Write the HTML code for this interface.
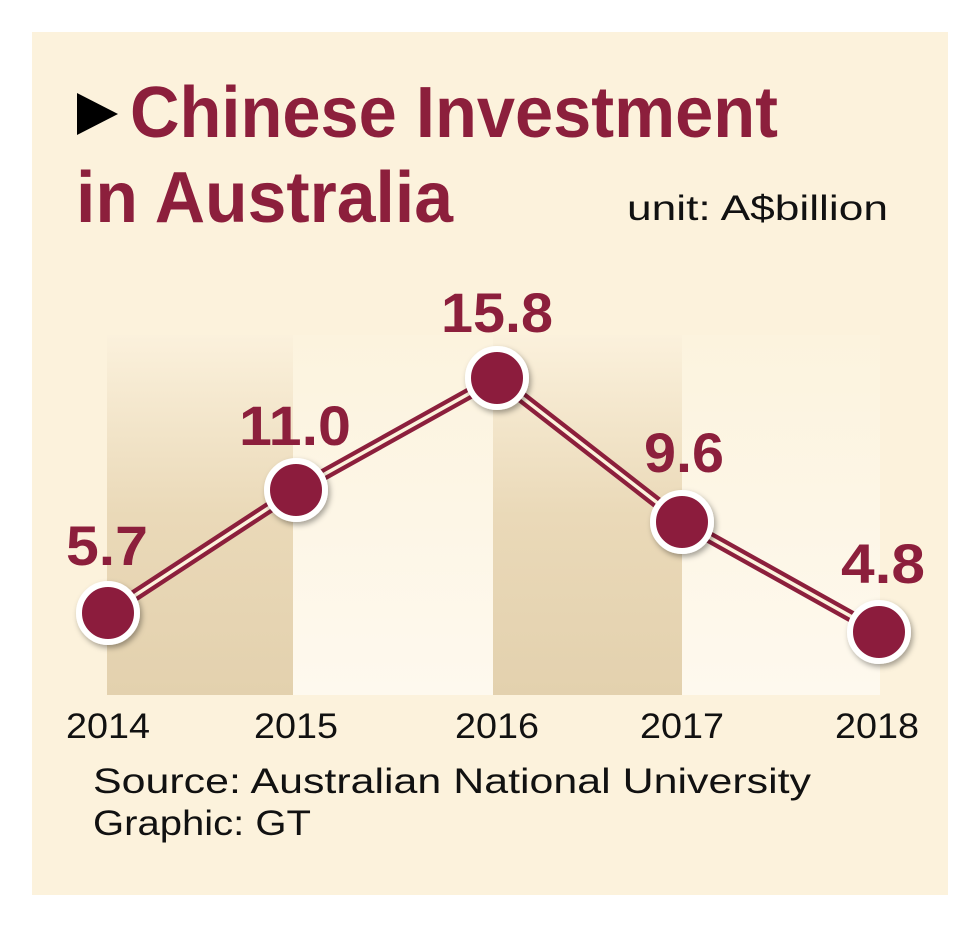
<!DOCTYPE html>
<html><head><meta charset="utf-8"><style>
html,body{margin:0;padding:0;background:#fff;}
svg{display:block}
</style></head><body>
<svg width="972" height="932" viewBox="0 0 972 932" xmlns="http://www.w3.org/2000/svg">
<defs>
<linearGradient id="dk" x1="0" y1="0" x2="0" y2="1">
<stop offset="0" stop-color="#fbf1dc"/><stop offset="0.5" stop-color="#ead9b8"/><stop offset="1" stop-color="#e3d1ae"/></linearGradient>
<linearGradient id="lt" x1="0" y1="0" x2="0" y2="1">
<stop offset="0" stop-color="#fcf3de"/><stop offset="1" stop-color="#fef9ee"/></linearGradient>
<filter id="sh" x="-50%" y="-50%" width="200%" height="200%"><feDropShadow dx="2" dy="3" stdDeviation="3" flood-color="#000" flood-opacity="0.35"/></filter>
</defs>
<rect x="32" y="32" width="916" height="863" fill="#fcf2dc"/>
<rect x="107" y="335" width="186" height="360" fill="url(#dk)"/>
<rect x="293" y="335" width="200" height="360" fill="url(#lt)"/>
<rect x="493" y="335" width="189" height="360" fill="url(#dk)"/>
<rect x="682" y="335" width="198" height="360" fill="url(#lt)"/>
<polygon points="77,93 118,114 77,135" fill="#000"/>
<g font-family="Liberation Sans, sans-serif" font-weight="bold" fill="#8c1f3c">
<text x="130" y="137" font-size="72" textLength="648" lengthAdjust="spacingAndGlyphs">Chinese Investment</text>
<text x="76" y="222" font-size="72" textLength="377" lengthAdjust="spacingAndGlyphs">in Australia</text>
</g>
<text x="627" y="220" font-family="Liberation Sans, sans-serif" font-size="35" fill="#111" textLength="261" lengthAdjust="spacingAndGlyphs">unit: A$billion</text>
<polyline points="108,613 296,490 497,378 682,522 879,632" fill="none" stroke="#8c1f3c" stroke-width="12"/>
<polyline points="108,613 296,490 497,378 682,522 879,632" fill="none" stroke="#fcf2dc" stroke-width="3.5"/>
<g fill="#8c1f3c" stroke="#fff" stroke-width="6" filter="url(#sh)">
<circle cx="108" cy="613" r="29"/><circle cx="296" cy="490" r="29"/><circle cx="497" cy="378" r="29"/><circle cx="682" cy="522" r="29"/><circle cx="879" cy="632" r="29"/>
</g>
<g font-family="Liberation Sans, sans-serif" font-weight="bold" fill="#8c1f3c" font-size="56" text-anchor="middle">
<text x="107" y="565" textLength="82" lengthAdjust="spacingAndGlyphs">5.7</text>
<text x="295" y="445" textLength="112" lengthAdjust="spacingAndGlyphs">11.0</text>
<text x="497" y="332" textLength="112" lengthAdjust="spacingAndGlyphs">15.8</text>
<text x="684" y="472" textLength="80" lengthAdjust="spacingAndGlyphs">9.6</text>
<text x="883" y="583" textLength="84" lengthAdjust="spacingAndGlyphs">4.8</text>
</g>
<g font-family="Liberation Sans, sans-serif" font-size="35" fill="#111" text-anchor="middle">
<text x="108" y="738" textLength="84" lengthAdjust="spacingAndGlyphs">2014</text>
<text x="296" y="738" textLength="84" lengthAdjust="spacingAndGlyphs">2015</text>
<text x="497" y="738" textLength="84" lengthAdjust="spacingAndGlyphs">2016</text>
<text x="682" y="738" textLength="84" lengthAdjust="spacingAndGlyphs">2017</text>
<text x="877" y="738" textLength="84" lengthAdjust="spacingAndGlyphs">2018</text>
</g>
<g font-family="Liberation Sans, sans-serif" font-size="35" fill="#111">
<text x="93" y="793" textLength="718" lengthAdjust="spacingAndGlyphs">Source: Australian National University</text>
<text x="93" y="835" textLength="218" lengthAdjust="spacingAndGlyphs">Graphic: GT</text>
</g>
</svg>
</body></html>
